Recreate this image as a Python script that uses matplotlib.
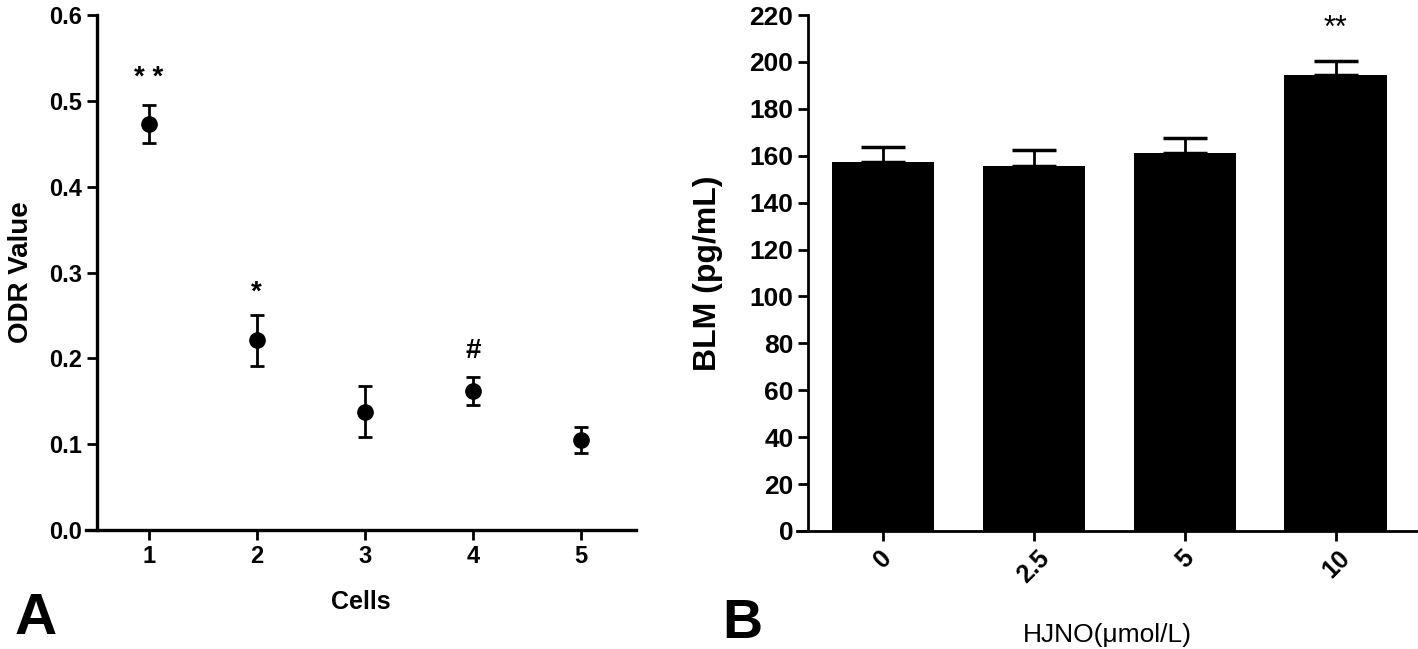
import matplotlib
matplotlib.use("Agg")
import matplotlib.pyplot as plt
import numpy as np

plt.rcParams['font.family'] = ['Liberation Sans', 'DejaVu Sans']

# Panel A data
cells = [1, 2, 3, 4, 5]
odr_mean = [0.473, 0.221, 0.138, 0.162, 0.105]
odr_err = [0.022, 0.030, 0.030, 0.016, 0.015]
odr_marks = {1: "* *", 2: "*", 4: "#"}
odr_mark_y = {1: 0.527, 2: 0.277, 4: 0.208}

# Panel B data
doses = ["0", "2.5", "5", "10"]
blm_mean = [157.3, 155.6, 161.2, 194.4]
blm_err = [6.4, 6.8, 6.4, 6.0]
blm_marks = {3: "**"}
blm_mark_y = {3: 214.0}

fig = plt.figure(figsize=(14.18, 6.49), dpi=100)

# ---------------- Panel A ----------------
axA = fig.add_axes([86/1418, 1-530/649, (636-86)/1418, (530-15)/649])
axA.errorbar(cells, odr_mean, yerr=odr_err, fmt='o', color='black',
             markersize=11, elinewidth=2, capsize=5, capthick=2)
for k, txt in odr_marks.items():
    axA.text(k, odr_mark_y[k], txt, ha='center', va='center', fontsize=20, fontweight='bold')
axA.set_xlim(0.42, 5.51)
axA.set_ylim(0, 0.6)
axA.set_xticks(cells)
axA.set_yticks(np.arange(0, 0.61, 0.1))
axA.set_yticklabels([f"{v:.1f}" for v in np.arange(0, 0.61, 0.1)])
axA.spines['top'].set_visible(False)
axA.spines['right'].set_visible(False)
axA.spines['left'].set_position(('data', 0.52))
for s in ['left', 'bottom']:
    axA.spines[s].set_linewidth(2.4)
axA.tick_params(width=2, length=7, labelsize=17, direction='out')
for lab in axA.get_xticklabels() + axA.get_yticklabels():
    lab.set_fontweight('bold')
axA.set_ylabel("ODR Value", fontsize=20, fontweight='bold')
axA.yaxis.set_label_coords(-0.094, 0.5)
axA.set_xlabel("Cells", fontsize=18, fontweight='bold', labelpad=16)
fig.text(15/1418, 1-634/649, "A", fontsize=42, fontweight='bold', ha='left', va='baseline')

# ---------------- Panel B ----------------
axB = fig.add_axes([797/1418, 1-531/649, (1418-797)/1418 - 0.0005, (531-15)/649])
x = np.arange(len(doses))
axB.bar(x, blm_mean, width=0.68, color='black')
axB.errorbar(x, blm_mean, yerr=[np.zeros(len(blm_err)), blm_err], fmt='none',
             ecolor='black', elinewidth=2, capsize=16, capthick=2.5)
for k, txt in blm_marks.items():
    axB.text(x[k], blm_mark_y[k], txt, ha='center', va='center', fontsize=22)
axB.set_xlim(-0.57, 3.54)
axB.set_ylim(0, 220)
axB.set_yticks(np.arange(0, 221, 20))
axB.set_xticks(x)
axB.set_xticklabels(doses, rotation=45, ha='center')
axB.spines['top'].set_visible(False)
axB.spines['right'].set_visible(False)
axB.spines['left'].set_position(('data', -0.497))
for s in ['left', 'bottom']:
    axB.spines[s].set_linewidth(2)
axB.tick_params(width=2, length=7, labelsize=18, direction='out')
axB.tick_params(axis='y', labelsize=19)
for lab in axB.get_xticklabels() + axB.get_yticklabels():
    lab.set_fontweight('bold')
axB.set_ylabel("BLM (pg/mL)", fontsize=23, fontweight='bold')
axB.yaxis.set_label_coords(-0.12, 0.5)
axB.set_xlabel("HJNO(μmol/L)", fontsize=19, labelpad=26)
fig.text(722/1418, 1-638/649, "B", fontsize=40, fontweight='bold', ha='left', va='baseline')

fig.savefig("out.png", dpi=100)
